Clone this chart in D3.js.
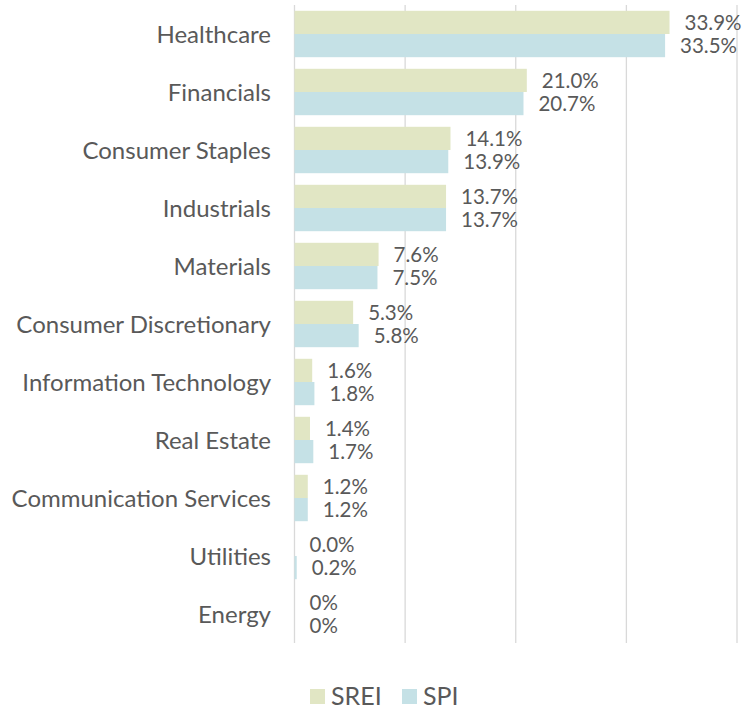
<!doctype html>
<html lang="en">
  <head>
    <meta charset="UTF-8" />
    <title>Sector weights: SREI vs SPI</title>
    <script src="https://d3js.org/d3.v7.min.js"></script>
    <style>
      body {
        margin: 0;
        background: #fff;
      }
      text {
        font-family: Lato, 'Open Sans', sans-serif;
        fill: #595959;
      }
    </style>
  </head>
  <body>
    <svg width="745" height="707"></svg>
    <script>
      const sectors = [
        'Healthcare',
        'Financials',
        'Consumer Staples',
        'Industrials',
        'Materials',
        'Consumer Discretionary',
        'Information Technology',
        'Real Estate',
        'Communication Services',
        'Utilities',
        'Energy',
      ];
      const sreiValues = [33.9, 21.0, 14.1, 13.7, 7.6, 5.3, 1.6, 1.4, 1.2, 0.0, 0];
      const spiValues = [33.5, 20.7, 13.9, 13.7, 7.5, 5.8, 1.8, 1.7, 1.2, 0.2, 0];
      const sreiLabels = ['33.9%', '21.0%', '14.1%', '13.7%', '7.6%', '5.3%', '1.6%', '1.4%', '1.2%', '0.0%', '0%'];
      const spiLabels = ['33.5%', '20.7%', '13.9%', '13.7%', '7.5%', '5.8%', '1.8%', '1.7%', '1.2%', '0.2%', '0%'];
      const xTicks = [0, 10, 20, 30, 40];
      const seriesNames = ['SREI', 'SPI'];
      const colors = ['#e1e6c4', '#c5e1e6'];

      const svg = d3.select('svg');

      const x = d3.scaleLinear().domain([0, 40]).range([294.5, 737]);
      const y = d3
        .scaleBand()
        .domain(sectors)
        .range([5, 643])
        .paddingInner(0.2)
        .paddingOuter(0.1);
      const sub = d3
        .scaleBand()
        .domain(seriesNames)
        .range([0, y.bandwidth()]);
      const color = d3.scaleOrdinal().domain(seriesNames).range(colors);

      // gridlines
      svg
        .append('g')
        .selectAll('line')
        .data(xTicks)
        .enter()
        .append('line')
        .attr('x1', (d) => x(d))
        .attr('x2', (d) => x(d))
        .attr('y1', 5)
        .attr('y2', 643)
        .attr('stroke', '#d9d9d9')
        .attr('stroke-width', 1.3);

      const rows = sectors.map((s, i) => ({
        sector: s,
        vals: [
          { key: 'SREI', v: sreiValues[i], label: sreiLabels[i] },
          { key: 'SPI', v: spiValues[i], label: spiLabels[i] },
        ],
      }));

      const group = svg
        .append('g')
        .selectAll('g')
        .data(rows)
        .enter()
        .append('g')
        .attr('transform', (d) => `translate(0,${y(d.sector)})`);

      group
        .selectAll('rect')
        .data((d) => d.vals)
        .enter()
        .append('rect')
        .attr('x', x(0))
        .attr('y', (d) => sub(d.key))
        .attr('width', (d) => x(d.v) - x(0))
        .attr('height', sub.bandwidth())
        .attr('fill', (d) => color(d.key));

      group
        .selectAll('text')
        .data((d) => d.vals)
        .enter()
        .append('text')
        .attr('x', (d) => x(d.v) + 15)
        .attr('y', (d) => sub(d.key) + sub.bandwidth() / 2)
        .attr('dy', '0.35em')
        .style('font-size', '20.5px')
        .text((d) => d.label);

      // category labels
      svg
        .append('g')
        .selectAll('text')
        .data(sectors)
        .enter()
        .append('text')
        .attr('x', 271)
        .attr('y', (d) => y(d) + y.bandwidth() / 2)
        .attr('dy', '0.38em')
        .attr('text-anchor', 'end')
        .style('font-size', '24px')
        .text((d) => d);

      // legend
      const legend = svg
        .append('g')
        .selectAll('g')
        .data(seriesNames)
        .enter()
        .append('g')
        .attr('transform', (d, i) => `translate(${310 + i * 92},689)`);

      legend
        .append('rect')
        .attr('width', 15)
        .attr('height', 15)
        .attr('fill', color);

      legend
        .append('text')
        .attr('x', 21)
        .attr('y', 7)
        .attr('dy', '0.35em')
        .style('font-size', '25px')
        .text((d) => d);
    </script>
  </body>
</html>
